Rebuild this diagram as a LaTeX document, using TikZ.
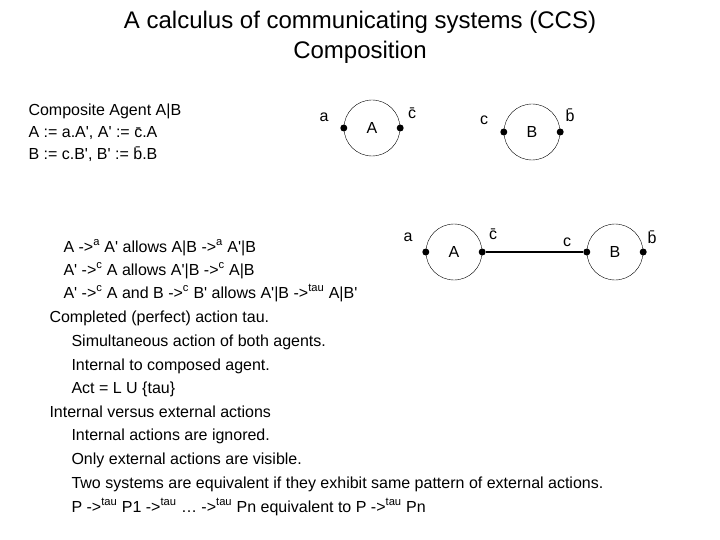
\documentclass[tikz,border=0pt]{standalone}
\usepackage{fontspec}
\setmainfont{Liberation Sans}
\usetikzlibrary{positioning}
\tikzset{
  agent/.style={draw, circle, minimum size=56pt, inner sep=0pt, font=\fontsize{16}{19}\selectfont},
  port/.style={circle, fill, minimum size=7pt, inner sep=0pt},
  plabel/.style={font=\fontsize{16}{19}\selectfont},
  body/.style={anchor=base west, font=\fontsize{16}{19}\selectfont}
}
\newcommand{\tr}[1]{ -{}>\textsuperscript{#1}}
\newcommand{\pr}{\textquotesingle}
\begin{document}
\begin{tikzpicture}[x=1pt, y=-1pt]
  \useasboundingbox (0,0) rectangle (720,540);
  % Title
  \node[font=\fontsize{24}{28}\selectfont] (title1) at (360,22) {A calculus of communicating systems (CCS)};
  \node[font=\fontsize{24}{28}\selectfont] (title2) at (360,52) {Composition};

  % Definitions
  \node[body] (def1) at (25,116) {Composite Agent A|B};
  \node[body] (def2) at (25,138) {A := a.A\pr, A\pr{} := \={c}.A};
  \node[body] (def3) at (25,160) {B := c.B\pr, B\pr{} := \={b}.B};

  % Separate agents
  \node[agent] (A1) at (372,128) {A};
  \node[agent] (B1) at (532,132) {B};
  \node[port] (A1a) at (A1.west) {};
  \node[port] (A1c) at (A1.east) {};
  \node[port] (B1c) at (B1.west) {};
  \node[port] (B1b) at (B1.east) {};
  \node[plabel] (la1) at (324,117) {a};
  \node[plabel] (lc1) at (412,113) {\={c}};
  \node[plabel] (lc2) at (484,120) {c};
  \node[plabel] (lb1) at (570,115) {\={b}};

  % Composed agents
  \node[agent] (A2) at (454,252) {A};
  \node[agent] (B2) at (615,252) {B};
  \node[port] (A2a) at (A2.west) {};
  \node[port] (A2c) at (A2.east) {};
  \node[port] (B2c) at (B2.west) {};
  \node[port] (B2b) at (B2.east) {};
  \draw[line width=1.2pt] (A2c) -- (B2c);
  \node[plabel] (la2) at (408,237) {a};
  \node[plabel] (lc3) at (493,234) {\={c}};
  \node[plabel] (lc4) at (567,242) {c};
  \node[plabel] (lb2) at (652,237) {\={b}};

  % Explanation
  \node[body] (t1) at (60,252) {A\tr{a} A\pr{} allows A|B\tr{a} A\pr|B};
  \node[body] (t2) at (60,275) {A\pr\tr{c} A allows A\pr|B\tr{c} A|B};
  \node[body] (t3) at (60,298) {A\pr\tr{c} A and B\tr{c} B\pr{} allows A\pr|B\tr{tau} A|B\pr};
  \node[body] (t4) at (46,322) {Completed (perfect) action tau.};
  \node[body] (t5) at (68,346) {Simultaneous action of both agents.};
  \node[body] (t6) at (68,370) {Internal to composed agent.};
  \node[body] (t7) at (68,393) {Act = L U \{tau\}};
  \node[body] (t8) at (46,417) {Internal versus external actions};
  \node[body] (t9) at (68,440) {Internal actions are ignored.};
  \node[body] (t10) at (68,464) {Only external actions are visible.};
  \node[body] (t11) at (68,488) {Two systems are equivalent if they exhibit same pattern of external actions.};
  \node[body] (t12) at (68,512) {P\tr{tau} P1\tr{tau} \dots\tr{tau} Pn equivalent to P\tr{tau} Pn};
\end{tikzpicture}
\end{document}
